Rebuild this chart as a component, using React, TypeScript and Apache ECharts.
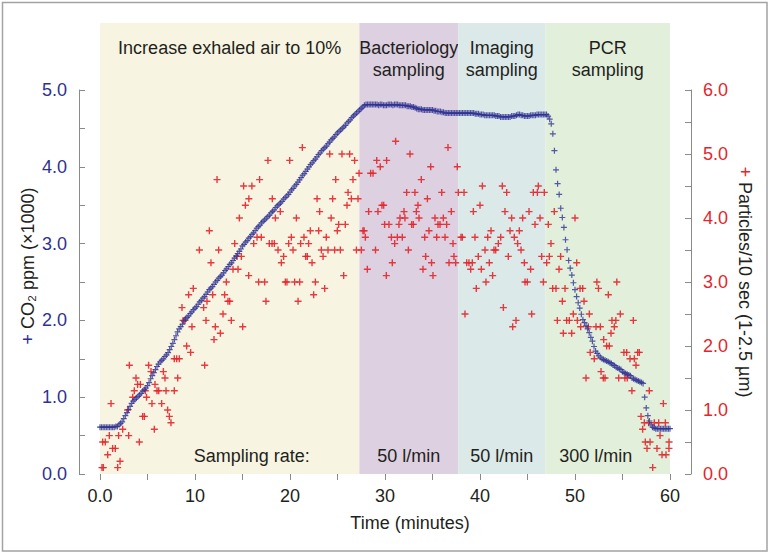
import React, { useEffect, useRef } from 'react';
import * as echarts from 'echarts';

// ---- Phase bands (minutes) ----
const bandStarts = [0, 27.3, 37.7, 46.9];
const bandEnds = [27.3, 37.7, 46.9, 60];
const bandTitles = ['Increase exhaled air to 10%', 'Bacteriology\nsampling', 'Imaging\nsampling', 'PCR\nsampling'];
const bandRates = ['Sampling rate:', '50 l/min', '50 l/min', '300 l/min'];

// ---- CO2 (ppm x1000), one reading every 10 s (1/6 min), from t = 0 ----
const co2StepMinutes = 1 / 6;
const co2Values = [
  0.61, 0.61, 0.61, 0.61, 0.61, 0.61,
  0.61, 0.61, 0.61, 0.61, 0.62, 0.62,
  0.64, 0.66, 0.68, 0.72, 0.76, 0.80,
  0.84, 0.88, 0.92, 0.95, 0.97, 0.99,
  1.01, 1.03, 1.05, 1.08, 1.10, 1.12,
  1.15, 1.19, 1.24, 1.28, 1.32, 1.36,
  1.40, 1.43, 1.46, 1.48, 1.50, 1.53,
  1.55, 1.58, 1.62, 1.66, 1.70, 1.75,
  1.80, 1.85, 1.89, 1.92, 1.95, 1.99,
  2.02, 2.04, 2.06, 2.09, 2.11, 2.14,
  2.16, 2.18, 2.21, 2.24, 2.26, 2.29,
  2.31, 2.34, 2.37, 2.40, 2.42, 2.44,
  2.47, 2.50, 2.52, 2.55, 2.57, 2.59,
  2.62, 2.65, 2.67, 2.70, 2.73, 2.75,
  2.78, 2.81, 2.84, 2.87, 2.90, 2.93,
  2.97, 2.99, 3.02, 3.04, 3.07, 3.09,
  3.12, 3.14, 3.17, 3.20, 3.22, 3.24,
  3.27, 3.29, 3.31, 3.33, 3.35, 3.37,
  3.40, 3.42, 3.44, 3.47, 3.49, 3.51,
  3.53, 3.55, 3.58, 3.60, 3.62, 3.64,
  3.67, 3.70, 3.72, 3.75, 3.77, 3.80,
  3.83, 3.86, 3.89, 3.91, 3.94, 3.97,
  4.00, 4.03, 4.05, 4.08, 4.10, 4.13,
  4.16, 4.18, 4.21, 4.23, 4.25, 4.27,
  4.30, 4.32, 4.35, 4.37, 4.39, 4.42,
  4.44, 4.46, 4.48, 4.50, 4.52, 4.54,
  4.57, 4.59, 4.61, 4.64, 4.66, 4.68,
  4.70, 4.72, 4.74, 4.76, 4.78, 4.80,
  4.81, 4.81, 4.81, 4.81, 4.81, 4.81,
  4.81, 4.81, 4.80, 4.81, 4.81, 4.80,
  4.80, 4.80, 4.81, 4.81, 4.81, 4.80,
  4.81, 4.81, 4.81, 4.80, 4.80, 4.80,
  4.80, 4.80, 4.79, 4.79, 4.79, 4.78,
  4.78, 4.77, 4.76, 4.75, 4.75, 4.75,
  4.74, 4.74, 4.74, 4.74, 4.74, 4.74,
  4.74, 4.73, 4.73, 4.72, 4.72, 4.72,
  4.71, 4.71, 4.70, 4.70, 4.70, 4.70,
  4.70, 4.70, 4.70, 4.70, 4.70, 4.70,
  4.70, 4.70, 4.70, 4.70, 4.70, 4.70,
  4.70, 4.70, 4.70, 4.69, 4.69, 4.69,
  4.68, 4.68, 4.68, 4.67, 4.67, 4.67,
  4.67, 4.67, 4.67, 4.67, 4.66, 4.66,
  4.66, 4.65, 4.65, 4.65, 4.65, 4.65,
  4.65, 4.65, 4.66, 4.66, 4.66, 4.67,
  4.68, 4.68, 4.67, 4.67, 4.66, 4.66,
  4.66, 4.66, 4.67, 4.67, 4.67, 4.67,
  4.68, 4.68, 4.68, 4.68, 4.68, 4.68,
  4.68, 4.66, 4.62, 4.56, 4.43, 4.21,
  3.96, 3.78, 3.64, 3.46, 3.34, 3.21,
  3.05, 2.92, 2.78, 2.68, 2.59, 2.49,
  2.40, 2.31, 2.23, 2.16, 2.08, 2.01,
  1.97, 1.93, 1.89, 1.84, 1.78, 1.73,
  1.66, 1.60, 1.57, 1.54, 1.52, 1.50,
  1.49, 1.48, 1.47, 1.46, 1.45, 1.44,
  1.42, 1.41, 1.39, 1.38, 1.37, 1.36,
  1.33, 1.32, 1.31, 1.30, 1.29, 1.28,
  1.25, 1.24, 1.23, 1.22, 1.21, 1.20,
  1.19, 1.18, 1.00, 0.86, 0.76, 0.69,
  0.64, 0.61, 0.60, 0.59, 0.59, 0.59,
  0.59, 0.59, 0.59, 0.59, 0.59, 0.59,
  0.59,
];

// ---- Particles/10 sec (1-2.5 µm): [minute, count] ----
const particles: number[][] = [
  [0.21, 0.1], [0.35, 0.1], [0.28, 0.5], [0.56, 0.5], [0.81, 0.3], [0.98, 0.6], [1.16, 1.1], [1.33, 0.4],
  [1.61, 0.4], [1.86, 0.1], [1.96, 0.6], [2.11, 0.2], [2.39, 0.7], [2.91, 1.0], [3.02, 0.6], [3.09, 1.7],
  [3.44, 1.2], [3.61, 1.3], [3.79, 1.5], [3.96, 1.4], [4.25, 1.4], [4.14, 0.5], [4.49, 0.9], [4.67, 0.9],
  [4.77, 1.3], [4.9, 1.2], [5.12, 1.7], [5.37, 1.6], [5.47, 1.1], [5.72, 0.7], [5.79, 1.4], [6.0, 1.3],
  [6.18, 1.3], [6.49, 1.1], [6.67, 1.6], [6.84, 1.5], [6.95, 1.3], [7.12, 1.0], [7.3, 0.9], [7.47, 0.8],
  [7.82, 1.3], [7.82, 1.8], [8.07, 1.8], [8.35, 1.8], [8.18, 1.5], [8.63, 2.6], [8.75, 2.4], [8.95, 2.4],
  [9.12, 2.0], [9.33, 2.8], [9.54, 1.9], [9.68, 2.3], [9.82, 2.9],
  [10.46, 3.5], [10.91, 2.6], [11.02, 1.7], [11.16, 2.4], [11.26, 2.7], [11.51, 3.8], [11.68, 3.3], [11.86, 2.8],
  [12.0, 2.1], [12.14, 2.3], [12.32, 4.6], [12.49, 3.5], [12.67, 2.2], [12.95, 2.5], [13.12, 2.8], [13.3, 3.0],
  [13.47, 2.7], [13.65, 2.7], [13.82, 2.4], [14.0, 3.2], [14.18, 3.6], [14.42, 3.4], [14.53, 3.2], [14.67, 4.0],
  [14.88, 3.4], [15.02, 2.3], [15.12, 4.5], [15.3, 4.2], [15.65, 3.1], [15.67, 4.3], [15.99, 4.5], [16.18, 3.6],
  [16.53, 3.7], [16.7, 3.0], [16.8, 4.6], [16.98, 3.7], [17.33, 3.0], [17.47, 2.7], [17.68, 4.9], [17.82, 3.6],
  [18.11, 3.6], [18.14, 4.3], [18.35, 3.6], [18.46, 4.0], [18.74, 3.5], [18.98, 4.1], [19.09, 3.3], [19.33, 3.4],
  [19.51, 3.0], [19.68, 3.0], [19.86, 3.6], [19.97, 4.9],
  [20.14, 3.7], [20.32, 3.5], [20.49, 3.0], [20.67, 4.0], [20.85, 2.7], [21.02, 3.0], [21.12, 3.6], [21.3, 5.1],
  [21.47, 3.7], [21.65, 3.4], [21.82, 3.4], [21.96, 3.6], [22.14, 3.8], [22.32, 3.3], [22.49, 2.8], [22.67, 3.0],
  [22.85, 4.3], [23.02, 3.8], [23.12, 4.1], [23.3, 3.5], [23.48, 3.4], [23.65, 2.9], [23.82, 3.7], [24.0, 3.5],
  [24.18, 5.0], [24.33, 4.0], [24.49, 4.3], [24.7, 3.5], [24.81, 4.6], [24.98, 3.8], [25.12, 3.9], [25.3, 3.5],
  [25.47, 5.0], [25.65, 3.1], [25.82, 3.9], [26.0, 4.2], [26.11, 4.4], [26.28, 5.0], [26.46, 4.3], [26.63, 4.6],
  [26.8, 4.9], [26.99, 3.5], [27.16, 4.3], [27.27, 4.7], [27.51, 3.5], [27.68, 3.8], [27.8, 3.8], [27.93, 3.7],
  [28.14, 3.2], [28.28, 4.1], [28.49, 4.7], [28.74, 4.7], [29.0, 3.5], [29.13, 4.9], [29.26, 4.1], [29.5, 4.8],
  [29.68, 4.2], [29.86, 4.2], [29.96, 3.9], [30.14, 3.1], [30.17, 4.9],
  [30.42, 3.9], [30.67, 3.7], [30.77, 3.3], [31.02, 3.6], [31.12, 5.2], [31.3, 3.7], [31.47, 3.9], [31.58, 4.0],
  [31.82, 3.7], [32.0, 4.1], [32.1, 4.0], [32.28, 4.4], [32.46, 3.5], [32.63, 5.0], [32.81, 3.9], [32.98, 3.9],
  [33.15, 4.4], [33.3, 4.1], [33.47, 4.2], [33.58, 4.0], [33.82, 4.6], [34.0, 3.2], [34.18, 3.7], [34.28, 3.4],
  [34.46, 4.3], [34.63, 3.8], [34.81, 4.8], [34.9, 3.3], [35.05, 3.1], [35.26, 4.0], [35.44, 3.7], [35.58, 3.9],
  [35.79, 3.9], [35.97, 4.4], [36.14, 4.0], [36.32, 3.7], [36.49, 3.9], [36.63, 5.1], [36.74, 3.3], [36.98, 4.1],
  [37.16, 3.6], [37.26, 3.4], [37.44, 3.3], [37.61, 4.8], [37.72, 4.4], [38.0, 3.7], [38.14, 3.7], [38.32, 4.4],
  [38.42, 2.5], [38.6, 3.3], [38.84, 3.3], [39.02, 3.2], [39.19, 3.3], [39.3, 4.1], [39.47, 3.7], [39.61, 2.9],
  [39.82, 3.4], [40.0, 4.2], [40.14, 3.2], [40.25, 4.5],
  [40.53, 3.5], [40.63, 3.0], [40.81, 3.7], [40.98, 3.3], [41.16, 3.8], [41.33, 3.1], [41.47, 3.5], [41.65, 3.5],
  [41.93, 3.6], [42.18, 3.7], [42.35, 4.5], [42.46, 2.6], [42.63, 4.1], [42.81, 4.4], [42.98, 3.4], [43.16, 3.8],
  [43.33, 4.0], [43.44, 2.3], [43.61, 3.7], [43.79, 2.4], [43.96, 3.6], [44.14, 3.8], [44.32, 3.5], [44.49, 4.0],
  [44.67, 3.3], [44.74, 3.0], [44.98, 3.0], [45.16, 4.1], [45.33, 3.2], [45.44, 2.5], [45.61, 4.4], [45.79, 3.9],
  [46.04, 4.4], [46.14, 4.5], [46.32, 4.0], [46.49, 3.4], [46.67, 3.0], [46.77, 4.4], [47.02, 3.3], [47.19, 3.9],
  [47.3, 3.4], [47.47, 3.6], [47.65, 2.9], [47.82, 4.1], [48.0, 2.9], [48.14, 2.4], [48.32, 3.2], [48.49, 3.4],
  [48.67, 2.7], [48.77, 2.2], [48.95, 2.9], [49.12, 2.4], [49.4, 2.4], [49.65, 2.2], [49.82, 2.5], [50.0, 4.0],
  [50.18, 3.3], [50.25, 2.4],
  [50.53, 2.9], [50.6, 2.3], [50.81, 2.9], [50.95, 2.7], [51.16, 1.5], [51.4, 2.3], [51.51, 2.5], [51.6, 1.9],
  [52.03, 1.8], [52.21, 2.3], [52.3, 3.0], [52.47, 2.9], [52.67, 2.3], [52.74, 1.6], [52.98, 1.5], [53.02, 2.1],
  [53.16, 1.5], [53.33, 2.0], [53.51, 2.8], [53.61, 2.0], [53.79, 2.2], [53.89, 2.4], [54.14, 2.3], [54.3, 2.4],
  [54.4, 3.0], [54.6, 1.5], [54.77, 2.5], [55.15, 1.9], [55.25, 1.5], [55.44, 1.9], [55.5, 1.5], [55.79, 1.8],
  [55.99, 1.3], [56.14, 2.4], [56.25, 1.8], [56.42, 1.7], [56.6, 1.9], [56.77, 1.9], [56.95, 0.9], [57.12, 0.7],
  [57.3, 0.8], [57.4, 0.5], [57.58, 0.4], [57.75, 0.8], [57.82, 1.3], [57.9, 0.5], [58.18, 0.1], [58.35, 0.8],
  [58.63, 0.4], [58.81, 0.8], [58.95, 0.6], [59.16, 0.3], [59.3, 1.1], [59.51, 0.8], [59.58, 0.3], [59.9, 0.5],
  [59.89, 0.4],
];

// ---- styling ----
const FONT = "'Liberation Sans', Arial, Helvetica, sans-serif";
const NAVY = '#2e3192';
const RED = '#e3262d';
const TEXT = '#231f20';
const AXIS_GRAY = '#8a8a8a';
const bandColors = ['#f7f5e2', '#ddd0e1', '#dbe9e8', '#e2efdb'];
const rateOffsetsPx = [22, 0, 0, -12];
const PLUS = 'path://M2,0H3V2H5V3H3V5H2V3H0V2H2Z';

export default function App() {
  const ref = useRef<HTMLDivElement>(null);

  useEffect(() => {
    if (!ref.current) return;
    const chart = echarts.init(ref.current, undefined, { renderer: 'svg' });

    const co2Data = co2Values.map((v, i) => [i * co2StepMinutes, v]);
    const bandData = bandStarts.map((s, i) => [s, bandEnds[i], i]);

    const option: any = {
      animation: false,
      backgroundColor: '#ffffff',
      textStyle: { fontFamily: FONT },
      graphic: [
        {
          type: 'rect',
          silent: true,
          shape: { x: 2.5, y: 2.5, width: 764.5, height: 548.5 },
          style: { fill: 'transparent', stroke: '#a3a3a3', lineWidth: 1.5 },
        },
      ],
      grid: [
        { left: 100, right: 100, top: 23, bottom: 80, outerBoundsMode: 'none' },
        { left: 100, right: 100, top: 90, bottom: 80, outerBoundsMode: 'none' },
      ],
      xAxis: [
        { gridIndex: 0, type: 'value', min: 0, max: 60, show: false },
        {
          gridIndex: 1,
          type: 'value',
          min: 0,
          max: 60,
          interval: 5,
          axisLine: { show: false },
          axisTick: { show: true, inside: false, length: 6, lineStyle: { color: AXIS_GRAY, width: 1 } },
          splitLine: { show: false },
          axisLabel: {
            margin: 13,
            color: TEXT,
            fontSize: 18,
            fontFamily: FONT,
            formatter: (v: number) => (v === 0 ? '0.0' : v % 10 === 0 ? String(v) : ''),
          },
          name: 'Time (minutes)',
          nameLocation: 'middle',
          nameGap: 40,
          nameMoveOverlap: false,
          nameTextStyle: { color: TEXT, fontSize: 18, fontFamily: FONT, padding: [0, 0, 0, 50] },
        },
      ],
      yAxis: [
        { gridIndex: 0, type: 'value', min: 0, max: 1, show: false },
        {
          gridIndex: 1,
          type: 'value',
          position: 'left',
          offset: 21,
          min: 0,
          max: 5,
          interval: 0.5,
          axisLine: { show: true, onZero: false, lineStyle: { color: AXIS_GRAY, width: 1 } },
          axisTick: { show: true, inside: true, length: 6, lineStyle: { color: AXIS_GRAY, width: 1 } },
          splitLine: { show: false },
          axisLabel: {
            margin: 12,
            color: NAVY,
            fontSize: 18,
            fontFamily: FONT,
            formatter: (v: number) => (Math.abs(v - Math.round(v)) < 1e-9 ? v.toFixed(1) : ''),
          },
          name: '{m|+} CO₂ ppm (×1000)',
          nameLocation: 'middle',
          nameRotate: 90,
          nameGap: 42,
          nameMoveOverlap: false,
          nameTextStyle: {
            color: TEXT,
            fontSize: 18,
            fontFamily: FONT,
            padding: [0, 0, 0, 32],
            rich: { m: { color: NAVY, fontSize: 18, fontFamily: FONT } },
          },
        },
        {
          gridIndex: 1,
          type: 'value',
          position: 'right',
          offset: 21,
          min: 0,
          max: 6,
          interval: 0.5,
          axisLine: { show: true, onZero: false, lineStyle: { color: AXIS_GRAY, width: 1 } },
          axisTick: { show: true, inside: true, length: 6, lineStyle: { color: AXIS_GRAY, width: 1 } },
          splitLine: { show: false },
          axisLabel: {
            margin: 12,
            color: RED,
            fontSize: 18,
            fontFamily: FONT,
            formatter: (v: number) => (Math.abs(v - Math.round(v)) < 1e-9 ? v.toFixed(1) : ''),
          },
          name: '{m|+} Particles/10 sec (1-2.5 µm)',
          nameLocation: 'middle',
          nameRotate: -90,
          nameGap: 45,
          nameMoveOverlap: false,
          nameTextStyle: {
            color: TEXT,
            fontSize: 18,
            fontFamily: FONT,
            rich: { m: { color: RED, fontSize: 18, fontFamily: FONT } },
          },
        },
      ],
      series: [
        {
          type: 'custom',
          xAxisIndex: 0,
          yAxisIndex: 0,
          silent: true,
          z: 0,
          data: bandData,
          renderItem: (params: any, api: any) => {
            const i = api.value(2);
            const tl = api.coord([api.value(0), 1]);
            const br = api.coord([api.value(1), 0]);
            const cx = (tl[0] + br[0]) / 2;
            return {
              type: 'group',
              children: [
                {
                  type: 'rect',
                  shape: { x: tl[0], y: tl[1], width: br[0] - tl[0], height: br[1] - tl[1] },
                  style: { fill: bandColors[i] },
                },
                {
                  type: 'text',
                  x: cx,
                  y: tl[1] + 14,
                  style: {
                    text: bandTitles[i],
                    textAlign: 'center',
                    textVerticalAlign: 'top',
                    fill: TEXT,
                    fontSize: 18,
                    fontFamily: FONT,
                    lineHeight: 22,
                  },
                },
                {
                  type: 'text',
                  x: cx + rateOffsetsPx[i],
                  y: br[1] - 18,
                  style: {
                    text: bandRates[i],
                    textAlign: 'center',
                    textVerticalAlign: 'middle',
                    fill: TEXT,
                    fontSize: 18,
                    fontFamily: FONT,
                  },
                },
              ],
            };
          },
        },
        {
          name: 'Particles',
          type: 'scatter',
          xAxisIndex: 1,
          yAxisIndex: 2,
          z: 3,
          symbol: PLUS,
          symbolSize: 7,
          itemStyle: { color: RED, opacity: 0.9 },
          data: particles,
        },
        {
          name: 'CO2',
          type: 'scatter',
          xAxisIndex: 1,
          yAxisIndex: 1,
          z: 4,
          symbol: PLUS,
          symbolSize: 6,
          itemStyle: { color: NAVY, opacity: 0.8 },
          data: co2Data,
        },
      ],
    };

    chart.setOption(option);
    return () => chart.dispose();
  }, []);

  return (
    <div
      ref={ref}
      style={{ position: 'fixed', left: 0, top: 0, width: 770, height: 554, background: '#fff' }}
    />
  );
}
